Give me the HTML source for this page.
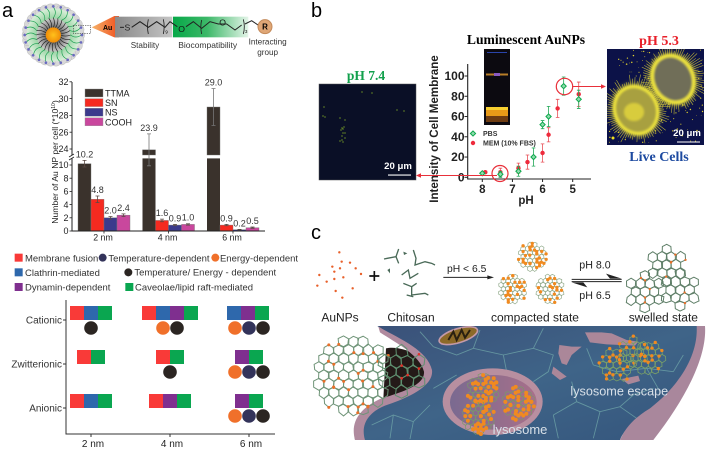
<!DOCTYPE html>
<html lang="en">
<head>
<meta charset="utf-8">
<title>Gold nanoparticle figure</title>
<style>
html,body{margin:0;padding:0;background:#fff;width:708px;height:455px;overflow:hidden}
svg{display:block;font-family:"Liberation Sans",sans-serif;filter:blur(.3px)}
.serif{font-family:"Liberation Serif",serif;font-weight:bold}
</style>
</head>
<body>
<svg id="fig" xmlns="http://www.w3.org/2000/svg" width="708" height="455" viewBox="0 0 708 455">
<defs>
<filter id="soft" x="-15%" y="-15%" width="130%" height="130%"><feGaussianBlur stdDeviation="1.1"/></filter>
<filter id="glow" x="-30%" y="-30%" width="160%" height="160%"><feGaussianBlur stdDeviation="3"/></filter>
<clipPath id="liveClip"><rect x="607" y="49" width="97" height="96"/></clipPath>
<linearGradient id="auG" x1="0" x2="1"><stop offset="0" stop-color="#f6b36a"/><stop offset="1" stop-color="#f0501e"/></linearGradient>
<linearGradient id="greyG" x1="0" x2="1"><stop offset="0" stop-color="#8a8a8a"/><stop offset="1" stop-color="#c4c4c4"/></linearGradient>
<linearGradient id="greenG" x1="0" x2="1"><stop offset="0" stop-color="#06a848"/><stop offset=".45" stop-color="#3cb868"/><stop offset="1" stop-color="#e4f4e8"/></linearGradient>
<radialGradient id="innerG"><stop offset=".3" stop-color="#555"/><stop offset="1" stop-color="#c8c8c8"/></radialGradient>
<radialGradient id="greenR"><stop offset=".55" stop-color="#8fcf9c"/><stop offset="1" stop-color="#d8efd8"/></radialGradient>
<radialGradient id="goldG"><stop offset="0" stop-color="#ffc21c"/><stop offset="1" stop-color="#f08c08"/></radialGradient>
<linearGradient id="cellBg" x1="0" x2="1" y1="0" y2="1"><stop offset="0" stop-color="#3a5078"/><stop offset=".5" stop-color="#3f6488"/><stop offset="1" stop-color="#34557c"/></linearGradient>
<linearGradient id="lysoG" x1="0" x2="1"><stop offset="0" stop-color="#7a6a90"/><stop offset="1" stop-color="#a8708a"/></linearGradient>
</defs>

<text x="2" y="17" font-size="20">a</text>
<text x="311" y="17" font-size="20">b</text>
<text x="311" y="239" font-size="20">c</text>

<!-- panel a schematic (coordinates are 3x) -->
<g transform="scale(.33333)">
  <g id="particle"></g>
  <rect x="220" y="76" width="52" height="24" fill="none" stroke="#444" stroke-width="2" stroke-dasharray="4 3"/>
  <polygon points="275,82 343,48 357,48 357,112 343,112" fill="url(#auG)"/>
  <rect x="345" y="50" width="172" height="62" fill="url(#greyG)"/>
  <rect x="519" y="50" width="226" height="62" fill="url(#greenG)"/>
  <text x="323" y="90" font-size="21" font-weight="bold" text-anchor="middle">Au</text>
  <text x="382" y="92" font-size="26" text-anchor="middle" fill="#222">S</text>
  <polyline points="360,82 372,82" stroke="#222" stroke-width="3" fill="none"/>
  <polyline points="395,82 420,65 445,82 470,65 495,82 510,65 532,80" stroke="#222" stroke-width="3" fill="none"/>
  <path d="M445,58 Q440,80 445,102 M490,58 Q495,80 490,102" stroke="#222" stroke-width="2.5" fill="none"/>
  <text x="496" y="100" font-size="13">9</text>
  <text x="545" y="96" font-size="26" text-anchor="middle" fill="#111">O</text>
  <text x="668" y="76" font-size="26" text-anchor="middle" fill="#111">O</text>
  <polyline points="558,80 580,65 605,85 630,65 655,72 680,72 705,90 725,75" stroke="#222" stroke-width="3" fill="none"/>
  <path d="M605,60 Q600,80 605,102 M730,58 Q736,80 730,102" stroke="#222" stroke-width="2.5" fill="none"/>
  <text x="735" y="99" font-size="13">3</text>
  <polyline points="735,72 755,62 777,77" stroke="#222" stroke-width="3" fill="none"/>
  <circle cx="795" cy="80" r="21" fill="#dfa676" stroke="#c48a5a" stroke-width="3"/>
  <text x="795" y="89" font-size="24" font-weight="bold" text-anchor="middle">R</text>
  <text x="435" y="144" font-size="24.5" text-anchor="middle" fill="#333">Stability</text>
  <text x="623" y="144" font-size="25.5" text-anchor="middle" fill="#333">Biocompatibility</text>
  <text x="803" y="133" font-size="24.5" text-anchor="middle" fill="#333">Interacting</text>
  <text x="803" y="165" font-size="24.5" text-anchor="middle" fill="#333">group</text>
</g>

<g id="barChart"></g>
<g id="pathLegend" transform="scale(.33333)"></g>
<g id="matrix"></g>

<!-- panel b images -->
<g>
  <rect x="319" y="84" width="97" height="96" fill="#0a0f26" stroke="#555" stroke-width=".5"/>
  <g id="sparseDots" fill="#9ccc28"></g>
  <text x="398" y="169" font-size="9.6" font-weight="bold" fill="#fff" text-anchor="middle">20 μm</text>
  <rect x="388" y="174.5" width="23" height="1.1" fill="#fff"/>
</g>
<text class="serif" x="366" y="80" font-size="13.5" fill="#12a04c" text-anchor="middle">pH 7.4</text>
<text class="serif" x="526" y="44" font-size="13.6" text-anchor="middle">Luminescent AuNPs</text>
<text class="serif" x="659" y="45" font-size="14" fill="#e8202a" text-anchor="middle">pH 5.3</text>
<text class="serif" x="659" y="161" font-size="14" fill="#1d4aa0" text-anchor="middle">Live Cells</text>

<g>
  <rect x="484" y="49" width="26" height="76" fill="#0c0a10"/>
  <rect x="487" y="52" width="20" height="1" fill="#2a44aa"/>
  <rect x="486" y="73.5" width="22" height="2" fill="#b87e28"/>
  <rect x="494" y="73" width="6" height="3" fill="#8a5ac0"/>
  <rect x="486" y="107" width="22" height="9" fill="#e89a18"/>
  <rect x="486" y="107" width="22" height="3" fill="#f8d030"/>
  <rect x="486" y="116" width="22" height="6" fill="#6e3c12"/>
</g>

<g clip-path="url(#liveClip)">
  <rect x="607" y="49" width="97" height="96" fill="#0c1248"/>
  <g id="liveDots" fill="#e0d030"></g>
  <g id="cellSpikes" stroke="#d8ce38" stroke-width=".6" opacity=".85"></g>
  <g filter="url(#glow)">
    <ellipse cx="636" cy="110" rx="23" ry="26" fill="#ccc23c" transform="rotate(-25 636 110)"/>
    <ellipse cx="673" cy="79" rx="22" ry="26" fill="#ccc23c" transform="rotate(-25 673 79)"/>
  </g>
  <g filter="url(#soft)">
    <ellipse cx="636" cy="110" rx="21" ry="24" fill="#a8a040" stroke="#ece23c" stroke-width="3" transform="rotate(-25 636 110)"/>
    <ellipse cx="673" cy="79" rx="20" ry="24" fill="#6f6e58" stroke="#ece23c" stroke-width="3.5" transform="rotate(-25 673 79)"/>
    <ellipse cx="634" cy="112" rx="10" ry="9" fill="#d8cc3c"/>
  </g>
  <circle cx="613" cy="138" r="1.5" fill="#f0e020"/>
  <text x="687" y="136" font-size="9.6" font-weight="bold" fill="#fff" text-anchor="middle">20 μm</text>
  <rect x="677" y="141.5" width="23" height="1" fill="#fff"/>
</g>

<g id="scatter"></g>

<g stroke="#e8303a" fill="none">
  <circle cx="500" cy="173.5" r="8" stroke-width="1.2"/>
  <circle cx="564.5" cy="86.5" r="8.2" stroke-width="1.2"/>
  <line x1="497" y1="175.5" x2="420" y2="175.5" stroke-width="1"/>
  <polygon points="416,175.5 421,173.3 421,177.7" fill="#e8303a" stroke="none"/>
  <line x1="572" y1="86.5" x2="602" y2="86.5" stroke-width="1"/>
  <polygon points="606,86.5 601,84.3 601,88.7" fill="#e8303a" stroke="none"/>
</g>

<!-- panel c (coordinates are 3x, origin 300,215) -->
<g transform="translate(300 215) scale(.33333)">
  <g id="auDots" fill="#e8602a"></g>
  <path d="M208,183h30M223,168v30" stroke="#111" stroke-width="5"/>
  <g fill="none" stroke="#4a6a58" stroke-width="4">
    <polyline points="296,102 288,125 262,130 252,132"/>
    <polyline points="288,125 296,145"/>
    <polyline points="340,105 348,130 345,150 375,140 395,145 405,150"/>
    <polyline points="305,180 325,165 330,190 355,175"/>
    <polyline points="310,205 335,215 335,240 375,235 385,240"/>
    <polyline points="335,215 350,205"/>
    <polyline points="320,240 340,245"/>
  </g>
  <polygon points="310,110 322,115 312,120" fill="#4a6a58"/>
  <polygon points="262,165 270,160 270,175" fill="#4a6a58"/>
  <text x="500" y="171" font-size="31" text-anchor="middle" fill="#222">pH &lt; 6.5</text>
  <line x1="430" y1="187" x2="572" y2="187" stroke="#222" stroke-width="3"/>
  <polygon points="582,187 562,181 562,193" fill="#222"/>
  <text x="885" y="160" font-size="32" text-anchor="middle" fill="#222">pH 8.0</text>
  <text x="885" y="252" font-size="32" text-anchor="middle" fill="#222">pH 6.5</text>
  <line x1="815" y1="193" x2="965" y2="193" stroke="#222" stroke-width="3"/>
  <polygon points="965,191 918,176 930,191" fill="#222"/>
  <line x1="815" y1="200" x2="965" y2="200" stroke="#222" stroke-width="3"/>
  <polygon points="815,202 862,217 850,202" fill="#222"/>
  <g id="nets"></g>
  <text x="120" y="320" font-size="36" text-anchor="middle" fill="#222">AuNPs</text>
  <text x="333" y="320" font-size="36" text-anchor="middle" fill="#222">Chitosan</text>
  <text x="705" y="320" font-size="36" text-anchor="middle" fill="#222">compacted state</text>
  <text x="1090" y="320" font-size="36" text-anchor="middle" fill="#222">swelled state</text>
</g>

<g transform="translate(300 215) scale(.33333)">
  <path d="M232,333 H1213 C1216,420 1130,530 1000,620 C980,640 965,660 960,675 H165 C155,620 190,590 250,560 C320,540 395,510 385,465 C375,410 300,380 232,333Z" fill="url(#cellBg)"/>
  <path d="M258,400 C300,390 375,420 385,465 C395,510 320,540 250,552Z" fill="#241a18"/>
  <path d="M235,335 C300,372 382,405 396,465 C402,515 320,550 255,572 C210,590 180,625 195,675 H165 C150,620 180,580 240,552 C310,530 375,510 372,470 C360,420 290,385 240,352Z" fill="#b08a9e"/>
  <path d="M1190,333 H1215 C1222,430 1150,560 1060,675 H960 C975,640 1000,610 1050,580 C1140,510 1195,420 1190,333Z" fill="#a9879c"/>
  <g fill="none" stroke="#7ab4b0" stroke-width="2.6" opacity=".65">
    <path d="M400,395 L470,420 L520,400 L610,420 L620,470 M520,400 L540,345 M610,420 L700,400 L760,420 L745,470 L700,500 M700,400 L730,340 M400,395 L360,350"/>
    <path d="M760,600 L830,560 L900,590 L960,575 L1010,610 M830,560 L815,500 M900,590 L880,670 M960,575 L1000,540 L1060,520 M760,600 L775,670"/>
    <path d="M880,450 L950,470 L1040,460 L1120,470 M1120,470 L1150,420 M880,450 L860,400 M1040,460 L1080,530"/>
    <path d="M215,630 L280,600 L340,620 L390,570 M340,620 L330,672 M280,600 L270,670 M400,520 L470,480"/>
  </g>
  <ellipse cx="475" cy="362" rx="60" ry="21" fill="#8c6a28" stroke="#c49aa8" stroke-width="5" transform="rotate(-17 475 362)"/>
  <path d="M445,375 L460,350 L470,375 L485,345 L495,368 L510,345" fill="none" stroke="#2a2010" stroke-width="6"/>
  <ellipse cx="578" cy="560" rx="150" ry="100" fill="#b88fa0"/>
  <ellipse cx="580" cy="562" rx="130" ry="82" fill="url(#lysoG)"/>
  <path d="M855,352 L905,352 L935,355 L980,375 L1015,380 L1005,392 L920,388 L870,382Z M778,390 L815,395 L845,395 L815,420 L800,450 L785,445 L775,415Z M760,455 L800,485 L780,495 L755,475Z M965,492 L1015,482 L1020,498 L985,508Z" fill="#ab8799"/>
  <g id="cellNets"></g>
  <text x="958" y="541" font-size="38" text-anchor="middle" fill="#d8e0e8">lysosome escape</text>
  <text x="660" y="657" font-size="39" text-anchor="middle" fill="#d8e0e8">lysosome</text>
</g>
</svg>

<script>
/* ---------- bar chart data ---------- */
var barCategories = ['2 nm', '4 nm', '6 nm'];
var barSeriesNames = ['TTMA', 'SN', 'NS', 'COOH'];
var barColors = ['#3a322c', '#f52a20', '#3b3a8c', '#c9479d'];
var ttmaValues = [10.2, 23.9, 29.0];
var snValues = [4.8, 1.6, 0.9];
var nsValues = [2.0, 0.9, 0.2];
var coohValues = [2.4, 1.0, 0.5];
var ttmaErrors = [0.5, 1.9, 2.2];
var snErrors = [0.5, 0.2, 0.1];
var nsErrors = [0.2, 0.1, 0.05];
var coohErrors = [0.2, 0.1, 0.1];
var lowerTicks = [0, 2, 4, 6, 8, 10];
var upperTicks = [24, 26, 28, 30, 32];

/* ---------- scatter data ---------- */
var phTicks = [8, 7, 6, 5];
var intensityTicks = [0, 20, 40, 60, 80, 100];
var pbsPH = [8, 7.4, 6.8, 6.3, 6, 5.8, 5.3, 4.8];
var pbsValues = [4, 3, 6, 20, 52, 60, 90, 77];
var pbsErrors = [1, 3, 5, 9, 4, 10, 9, 9];
var memPH = [7.9, 7.4, 6.8, 6.5, 6, 5.8, 5.5, 4.8];
var memValues = [5, 5, 9, 15, 24, 42, 68, 82];
var memErrors = [1, 4, 5, 7, 9, 7, 9, 12];

/* ---------- pathway matrix data ---------- */
var matrixRows = ['Cationic', 'Zwitterionic', 'Anionic'];
var matrixCols = ['2 nm', '4 nm', '6 nm'];
var matrixSquares = [
  [['red','blue','green'], ['red','blue','purple','green'], ['blue','purple','green']],
  [['red','green'], ['red','green'], ['purple','green']],
  [['red','blue','green'], ['red','purple','green'], ['purple','green']]
];
var matrixCircles = [
  [['black'], ['orange','black'], ['orange','navy','black']],
  [[], ['black'], ['orange','navy','black']],
  [[], [], ['orange','navy','black']]
];
var pathwayColors = {red:'#f93a38', blue:'#2e68ac', purple:'#7f2f8f', green:'#0aa650', orange:'#f0702a', navy:'#33335a', black:'#2b2522'};

var NS = 'http://www.w3.org/2000/svg';
function el(tag, attrs, parent, text) {
  var e = document.createElementNS(NS, tag);
  for (var k in attrs) e.setAttribute(k, attrs[k]);
  if (text !== undefined) e.textContent = text;
  parent.appendChild(e);
  return e;
}
function hash(i) { var s = Math.sin(i * 12.9898 + 4.1) * 43758.5453; return s - Math.floor(s); }

/* ---------- bar chart ---------- */
(function () {
  var g = document.getElementById('barChart');
  function yBar(v) { return v <= 11 ? 231 - v * 6.6 : 149 - (v - 24) * 8.4; }
  function xBar(c, s) { return 78 + c * 64.5 + s * 13; }
  var allValues = [ttmaValues, snValues, nsValues, coohValues];
  var allErrors = [ttmaErrors, snErrors, nsErrors, coohErrors];
  var barW = 13;
  allValues.forEach(function (vals, s) {
    vals.forEach(function (v, c) {
      var x = xBar(c, s);
      var top = yBar(v);
      if (v > 11) {
        var upper = el('rect', {x: x, y: top, width: barW, height: Math.max(155 - top, 0), fill: barColors[s], stroke: '#777', 'stroke-width': .4}, g);
        
        
        var lower = el('rect', {x: x, y: 158.4, width: barW, height: 231 - 158.4, fill: barColors[s]}, g);
        
        
      } else {
        var bar = el('rect', {x: x, y: top, width: barW, height: 231 - top, fill: barColors[s], stroke: '#777', 'stroke-width': .4}, g);
        
        
      }
      var e = allErrors[s][c];
      var yt = yBar(v + e);
      var yb = yBar(v - e);
      var cx = x + barW / 2;
      var errorBar = el('path', {d: 'M' + cx + ',' + yt + 'V' + yb + 'M' + (cx - 2) + ',' + yt + 'h4M' + (cx - 2) + ',' + yb + 'h4', stroke: v > 11 ? '#777' : '#5a4a44', 'stroke-width': .8, fill: 'none'}, g);
      
      
      var label = el('text', {x: cx, y: yt - 3, 'font-size': 9, 'text-anchor': 'middle', fill: '#333'}, g, v.toFixed(1));
      
      
    });
  });
  var axes = el('path', {d: 'M72,82V155M72,158.4V231H265', stroke: '#222', 'stroke-width': 1, fill: 'none'}, g);
  
  
  el('path', {d: 'M69,157l5,-3M69,160l5,-3', stroke: '#222', 'stroke-width': .8}, g);
  lowerTicks.concat(upperTicks).forEach(function (t) {
    var y = yBar(t);
    el('line', {x1: 69.5, x2: 72, y1: y, y2: y, stroke: '#222', 'stroke-width': .8}, g);
    var tick = el('text', {x: 68.5, y: y + 3.2, 'font-size': 9, 'text-anchor': 'end', fill: '#222'}, g, t);
    
    
  });
  barCategories.forEach(function (name, c) {
    var cx = xBar(c, 2);
    el('line', {x1: cx, x2: cx, y1: 231, y2: 233.5, stroke: '#222', 'stroke-width': .8}, g);
    var cat = el('text', {x: cx - 1, y: 240.5, 'font-size': 8.8, 'text-anchor': 'middle', fill: '#222'}, g, name);
    
    
  });
  var title = el('text', {transform: 'translate(58 162) rotate(-90)', 'font-size': 8.6, 'text-anchor': 'middle', fill: '#222'}, g, 'Number of Au NP per cell (*10');
  
  
  el('tspan', {'font-size': 5, dy: -3}, title, '10');
  el('tspan', {dy: 3}, title, ')');
  barSeriesNames.forEach(function (name, s) {
    var y = 89 + s * 9.6;
    var swatch = el('rect', {x: 85, y: y, width: 18, height: 8, fill: barColors[s], stroke: '#999', 'stroke-width': .4}, g);
    
    
    var label = el('text', {x: 105, y: y + 7.5, 'font-size': 9, fill: '#222'}, g, name);
    
    
  });
})();

/* ---------- pathway legend ---------- */
(function () {
  var g = document.getElementById('pathLegend');
  var c = pathwayColors;
  [[44,26,c.red],[44,70,c.blue],[44,114,c.purple],[376,114,c.green]].forEach(function (s) {
    el('rect', {x: s[0], y: s[1], width: 24, height: 24, fill: s[2]}, g).setAttribute('transform', 'translate(0 735)');
  });
  [[308,38,c.navy],[646,38,c.orange],[385,82,c.black]].forEach(function (s) {
    el('circle', {cx: s[0], cy: s[1] + 735, r: 12, fill: s[2]}, g);
  });
  [['Membrane fusion',75,49],['Temperature-dependent',325,49],['Energy-dependent',660,49],['Clathrin-mediated',75,93],['Temperature/ Energy - dependent',403,91],['Dynamin-dependent',75,137],['Caveolae/lipid raft-mediated',405,137]].forEach(function (t) {
    var label = el('text', {x: t[1], y: t[2] + 735, 'font-size': 28.5, fill: '#333'}, g, t[0]);
    
    
  });
})();

/* ---------- pathway matrix ---------- */
(function () {
  var g = document.getElementById('matrix');
  var rowY = [320, 364, 408];
  var colX = [91, 170, 249];
  var size = 14;
  var axes = el('path', {d: 'M66,300V434H275', stroke: '#333', 'stroke-width': 1, fill: 'none'}, g);
  
  
  matrixRows.forEach(function (name, r) {
    el('line', {x1: 63, x2: 66, y1: rowY[r], y2: rowY[r], stroke: '#333', 'stroke-width': 1}, g);
    var label = el('text', {x: 62, y: rowY[r] + 3.5, 'font-size': 10, 'text-anchor': 'end', fill: '#333'}, g, name);
    
    
    matrixCols.forEach(function (col, c) {
      var sq = matrixSquares[r][c];
      var shift = c === 2 && r === 0 ? -1 : 0;
      var x0 = colX[c] - sq.length * size / 2 + shift;
      sq.forEach(function (kind, i) {
        var cell = el('rect', {x: x0 + i * size, y: rowY[r] - 14, width: size, height: size, fill: pathwayColors[kind]}, g);
        
        
      });
      var circ = matrixCircles[r][c];
      var cx0 = colX[c] - (circ.length - 1) * 7;
      circ.forEach(function (kind, i) {
        var dot = el('circle', {cx: cx0 + i * 14, cy: rowY[r] + 8, r: 6.8, fill: pathwayColors[kind]}, g);
        
        
      });
    });
  });
  matrixCols.forEach(function (name, c) {
    el('line', {x1: colX[c], x2: colX[c], y1: 434, y2: 437, stroke: '#333', 'stroke-width': 1}, g);
    var label = el('text', {x: colX[c] + 2, y: 447, 'font-size': 10, 'text-anchor': 'middle', fill: '#222'}, g, name);
    
    
  });
})();

/* ---------- scatter ---------- */
(function () {
  var g = document.getElementById('scatter');
  function xPH(p) { return 482.3 + (8 - p) * 30.13; }
  function yI(v) { return 177.3 - v * 1.013; }
  var axes = el('path', {d: 'M467.7,64V179H591', stroke: '#222', 'stroke-width': 1.1, fill: 'none'}, g);
  
  
  intensityTicks.forEach(function (t) {
    el('line', {x1: 464.5, x2: 467.7, y1: yI(t), y2: yI(t), stroke: '#222', 'stroke-width': 1}, g);
    var label = el('text', {x: 464.5, y: yI(t) + 4.2, 'font-size': 12, 'font-weight': 'bold', 'text-anchor': 'end', fill: '#222'}, g, t);
    
    
  });
  phTicks.forEach(function (t) {
    el('line', {x1: xPH(t), x2: xPH(t), y1: 179, y2: 182, stroke: '#222', 'stroke-width': 1}, g);
    var label = el('text', {x: xPH(t), y: 193, 'font-size': 11.5, 'font-weight': 'bold', 'text-anchor': 'middle', fill: '#222'}, g, t);
    
    
  });
  var xTitle = el('text', {x: 526, y: 204, 'font-size': 11.5, 'font-weight': 'bold', 'text-anchor': 'middle', fill: '#222'}, g, 'pH');
  
  
  var yTitle = el('text', {transform: 'translate(438 129) rotate(-90)', 'font-size': 11.6, 'font-weight': 'bold', 'text-anchor': 'middle', fill: '#222'}, g, 'Intensity of Cell Membrane');
  
  
  function errBar(x, v, e, col) {
    var y1 = yI(v + e), y2 = yI(v - e);
    var bar = el('path', {d: 'M' + x + ',' + y1 + 'V' + y2 + 'M' + (x - 1.8) + ',' + y1 + 'h3.6M' + (x - 1.8) + ',' + y2 + 'h3.6', stroke: col, 'stroke-width': .8, fill: 'none'}, g);
    
    
  }
  memPH.forEach(function (p, i) {
    var x = xPH(p);
    errBar(x, memValues[i], memErrors[i], '#e85058');
    var pt = el('circle', {cx: x, cy: yI(memValues[i]), r: 2.2, fill: '#ee2a3c'}, g);
    
    
  });
  function diamond(x, y, parent) {
    return el('polygon', {points: (x - 2.6) + ',' + y + ' ' + x + ',' + (y - 2.6) + ' ' + (x + 2.6) + ',' + y + ' ' + x + ',' + (y + 2.6), fill: '#8fdcae', stroke: '#0ea84c', 'stroke-width': 1}, parent);
  }
  pbsPH.forEach(function (p, i) {
    var x = xPH(p);
    errBar(x, pbsValues[i], pbsErrors[i], '#22a858');
    var pt = diamond(x, yI(pbsValues[i]), g);
    
    
  });
  var lp = diamond(473, 133.5, g);
  
  
  var lm = el('circle', {cx: 473, cy: 143, r: 2.2, fill: '#ee2a3c'}, g);
  
  
  var t1 = el('text', {x: 483, y: 136, 'font-size': 7, 'font-weight': 'bold', fill: '#333'}, g, 'PBS');
  
  
  var t2 = el('text', {x: 483, y: 145.5, 'font-size': 7, 'font-weight': 'bold', fill: '#333'}, g, 'MEM (10% FBS)');
  
  
})();

/* ---------- decoration ---------- */
(function () {
  /* schematic nanoparticle */
  var p = document.getElementById('particle');
  var cx = 160, cy = 105, i, a;
  for (i = 0; i < 30; i++) {
    a = i / 30 * 6.283;
    el('circle', {cx: cx + Math.cos(a) * 78, cy: cy + Math.sin(a) * 78, r: 16, fill: '#d8d8d8', stroke: '#aaa', 'stroke-width': 1}, p);
  }
  el('circle', {cx: cx, cy: cy, r: 80, fill: 'url(#greenR)'}, p);
  el('circle', {cx: cx, cy: cy, r: 50, fill: 'url(#innerG)'}, p);
  for (i = 0; i < 24; i++) {
    a = i / 24 * 6.283;
    var c = Math.cos(a), s = Math.sin(a), c2 = Math.cos(a + .18), s2 = Math.sin(a + .18);
    el('path', {d: 'M' + (cx + c * 22) + ',' + (cy + s * 22) + 'Q' + (cx + c2 * 36) + ',' + (cy + s2 * 36) + ' ' + (cx + c * 52) + ',' + (cy + s * 52), stroke: '#222', 'stroke-width': 2, fill: 'none'}, p);
    el('path', {d: 'M' + (cx + c * 52) + ',' + (cy + s * 52) + 'Q' + (cx + c2 * 68) + ',' + (cy + s2 * 68) + ' ' + (cx + c * 84) + ',' + (cy + s * 84), stroke: '#1aa050', 'stroke-width': 2, fill: 'none'}, p);
    el('circle', {cx: cx + c * 86, cy: cy + s * 86, r: 4, fill: '#6a6ac0'}, p);
  }
  el('circle', {cx: cx, cy: cy, r: 23, fill: 'url(#goldG)'}, p);

  /* micrograph speckle */
  var sparse = document.getElementById('sparseDots');
  [[342,128],[343,129],[341,130],[344,127],[340,141],[343,142],[345,138],[342,136],[323,116],[325,117],[340,118],[345,120],[397,110],[404,111],[362,92],[372,93],[343,133],[345,133],[342,140],[324,107]].forEach(function (d) {
    el('circle', {cx: d[0], cy: d[1], r: .6, fill: '#9ccc28'}, sparse);
  });
  var live = document.getElementById('liveDots');
  for (i = 0; i < 130; i++) {
    el('circle', {cx: 608 + hash(i) * 95, cy: 50 + hash(i + 300) * 94, r: .3 + hash(i + 600) * .5}, live);
  }
  var spikes = document.getElementById('cellSpikes');
  [[636, 110, 24], [673, 79, 24]].forEach(function (cell, k) {
    for (i = 0; i < 80; i++) {
      a = i / 80 * 6.283;
      var r2 = cell[2] + 3 + hash(i + k * 90) * 9;
      el('line', {x1: cell[0] + Math.cos(a) * (cell[2] - 4), y1: cell[1] + Math.sin(a) * (cell[2] - 4), x2: cell[0] + Math.cos(a + .05) * r2, y2: cell[1] + Math.sin(a + .05) * r2}, spikes);
    }
  });

  /* AuNP dots */
  var au = document.getElementById('auDots');
  [[118,112],[125,140],[150,143],[97,155],[120,160],[167,160],[58,180],[103,170],[183,177],[130,187],[103,192],[52,212],[80,200],[158,220],[107,228],[127,248]].forEach(function (d) {
    el('circle', {cx: d[0], cy: d[1], r: 3.6}, au);
  });

  /* polymer networks */
  var seed = 1;
  function net(parent, x0, y0, R, hexR, sw, line, dotCol, dotR, dotRate, clipX) {
    var g = el('g', {fill: 'none', stroke: line, 'stroke-width': sw}, parent);
    var dots = [];
    var w = hexR * 1.732, n = Math.ceil(R / hexR);
    for (var q = -n - 2; q <= n + 2; q++) {
      for (var r = -n; r <= n; r++) {
        var hx = x0 + w * (q + r / 2), hy = y0 + hexR * 1.5 * r;
        if (Math.hypot(hx - x0, hy - y0) > R) continue;
        if (clipX && hx > clipX) continue;
        var pts = [];
        for (var k = 0; k < 6; k++) {
          var ang = .5236 + k * 1.0472;
          seed++;
          var jr = hexR * (.86 + hash(seed) * .26);
          var px = hx + Math.cos(ang) * jr, py = hy + Math.sin(ang) * jr;
          pts.push(px.toFixed(1) + ',' + py.toFixed(1));
          if (hash(seed + 999) < dotRate) dots.push([px, py]);
        }
        el('polygon', {points: pts.join(' ')}, g);
      }
    }
    dots.forEach(function (d) {
      el('circle', {cx: d[0], cy: d[1], r: dotR, fill: dotCol, stroke: 'none'}, parent);
    });
  }
  var nets = document.getElementById('nets');
  net(nets, 697, 125, 38, 8, 2, '#8fa888', '#f08a20', 5, .14);
  net(nets, 638, 222, 40, 8, 2, '#8fa888', '#f08a20', 5, .14);
  net(nets, 750, 222, 40, 8, 2, '#8fa888', '#f08a20', 5, .14);
  net(nets, 1100, 150, 52, 16, 3, '#5f7f68', '#e8702a', 3.5, .06);
  net(nets, 1035, 230, 50, 16, 3, '#5f7f68', '#e8702a', 3.5, .06);
  net(nets, 1140, 225, 50, 16, 3, '#5f7f68', '#e8702a', 3.5, .06);

  var cn = document.getElementById('cellNets');
  net(cn, 160, 482, 115, 17, 3, '#6f9478', '#e8702a', 4.5, .07, 255);
  net(cn, 305, 470, 65, 20, 3, '#5f9070', '#e03028', 4, .06);
  net(cn, 550, 525, 42, 9, 2, '#7a9a68', '#f08a20', 6, .22);
  net(cn, 655, 565, 42, 9, 2, '#7a9a68', '#f08a20', 6, .22);
  net(cn, 535, 608, 42, 9, 2, '#7a9a68', '#f08a20', 6, .22);
  net(cn, 950, 450, 42, 12, 2.4, '#7aa068', '#f08a20', 5, .12);
  net(cn, 1000, 410, 38, 12, 2.4, '#7aa068', '#f08a20', 5, .12);
  net(cn, 1045, 430, 50, 12, 2.4, '#7aa068', '#f08a20', 5, .12);
})();
</script>
</body>
</html>
